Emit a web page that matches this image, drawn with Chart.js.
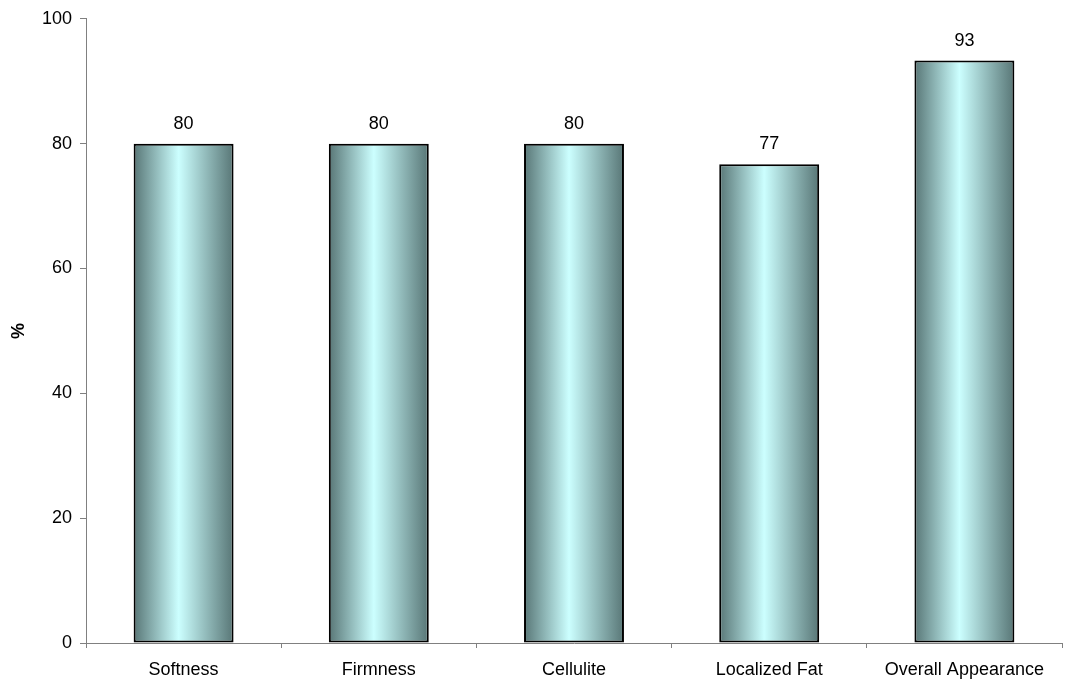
<!DOCTYPE html>
<html>
<head>
<meta charset="utf-8">
<script src="https://cdn.jsdelivr.net/npm/chart.js@4/dist/chart.umd.min.js"></script>
<style>
  html, body { margin: 0; padding: 0; background: #fff; }
  #wrap { width: 1066px; height: 684px; }
</style>
</head>
<body>
<div id="wrap"><canvas id="chart" width="1066" height="684"></canvas></div>
<script>
const categories = ['Softness', 'Firmness', 'Cellulite', 'Localized Fat', 'Overall Appearance'];
const percentValues = [80, 80, 80, 76.7, 93.3];
const yTicks = [0, 20, 40, 60, 80, 100];

const BAR_PCT = 0.512;
const FONT = '"Liberation Sans", Arial, sans-serif';

function barGradient(ctx) {
  const chart = ctx.chart;
  if (!chart.chartArea) return '#99cccc';
  const xs = chart.scales.x;
  const cx = xs.getPixelForValue(ctx.dataIndex);
  const w = (xs.width / categories.length) * BAR_PCT;
  const g = chart.ctx.createLinearGradient(cx - w / 2, 0, cx + w / 2, 0);
  g.addColorStop(0, '#587676');
  g.addColorStop(0.45, '#ccffff');
  g.addColorStop(1, '#587676');
  return g;
}

const valueLabels = {
  id: 'valueLabels',
  afterDatasetsDraw(chart) {
    const c = chart.ctx;
    c.save();
    c.font = '18px ' + FONT;
    c.fillStyle = '#000';
    c.textAlign = 'center';
    c.textBaseline = 'middle';
    chart.getDatasetMeta(0).data.forEach((bar, i) => {
      c.fillText(Math.round(percentValues[i]), bar.x, bar.y - 20);
    });
    c.restore();
  }
};

new Chart(document.getElementById('chart'), {
  type: 'bar',
  data: {
    labels: categories,
    datasets: [{
      data: percentValues,
      backgroundColor: barGradient,
      borderColor: '#000',
      borderWidth: 2,
      borderSkipped: false,
      categoryPercentage: 1,
      barPercentage: BAR_PCT
    }]
  },
  options: {
    responsive: false,
    animation: false,
    layout: { padding: { top: 17, right: 4, bottom: 0, left: 0 } },
    plugins: { legend: { display: false }, tooltip: { enabled: false } },
    scales: {
      x: {
        offset: true,
        grid: { offset: true, drawOnChartArea: false, tickLength: 5, color: '#808080' },
        border: { color: '#808080', width: 1 },
        ticks: { color: '#000', font: { size: 18, family: FONT }, padding: 11, maxRotation: 0 },
        afterFit(s) { s.height = 41; }
      },
      y: {
        min: 0,
        max: 100,
        afterBuildTicks(s) { s.ticks = yTicks.map(v => ({ value: v })); },
        grid: { drawOnChartArea: false, tickLength: 6, color: '#808080' },
        border: { color: '#808080', width: 1 },
        ticks: { color: '#000', font: { size: 18, family: FONT }, padding: 8 },
        title: {
          display: true,
          text: '%',
          color: '#000',
          font: { size: 18, weight: 'bold', family: FONT },
          padding: { top: 8, bottom: 0 }
        },
        afterFit(s) { s.width = 86; }
      }
    }
  },
  plugins: [valueLabels]
});
</script>
</body>
</html>
